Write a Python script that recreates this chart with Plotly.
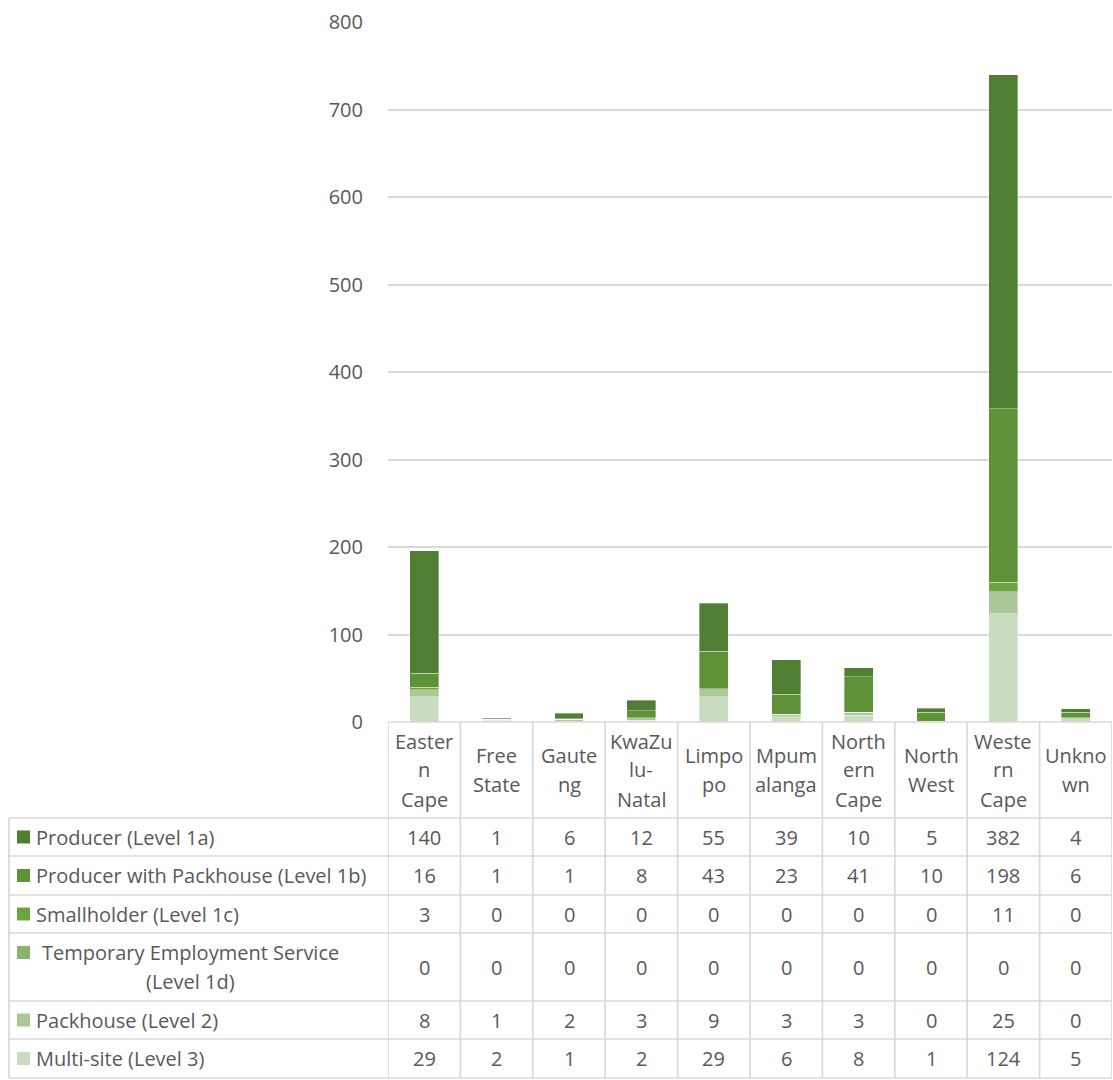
import plotly.graph_objects as go

# ---------------- data ----------------
categories = ["Eastern Cape", "Free State", "Gauteng", "KwaZulu-Natal", "Limpopo",
              "Mpumalanga", "Northern Cape", "North West", "Western Cape", "Unknown"]
header_lines = [["Easter", "n", "Cape"], ["Free", "State"], ["Gaute", "ng"],
                ["KwaZu", "lu-", "Natal"], ["Limpo", "po"], ["Mpum", "alanga"],
                ["North", "ern", "Cape"], ["North", "West"], ["Weste", "rn", "Cape"],
                ["Unkno", "wn"]]

producer_1a = [140, 1, 6, 12, 55, 39, 10, 5, 382, 4]
producer_1b = [16, 1, 1, 8, 43, 23, 41, 10, 198, 6]
smallholder_1c = [3, 0, 0, 0, 0, 0, 0, 0, 11, 0]
tes_1d = [0, 0, 0, 0, 0, 0, 0, 0, 0, 0]
packhouse_2 = [8, 1, 2, 3, 9, 3, 3, 0, 25, 0]
multisite_3 = [29, 2, 1, 2, 29, 6, 8, 1, 124, 5]

# table order (top to bottom)
series_names = ["Producer (Level 1a)", "Producer with Packhouse (Level 1b)",
                "Smallholder (Level 1c)", "Temporary Employment Service (Level 1d)",
                "Packhouse (Level 2)", "Multi-site (Level 3)"]
series_label_lines = [["Producer (Level 1a)"], ["Producer with Packhouse (Level 1b)"],
                      ["Smallholder (Level 1c)"], ["Temporary Employment Service", "(Level 1d)"],
                      ["Packhouse (Level 2)"], ["Multi-site (Level 3)"]]
series_values = [producer_1a, producer_1b, smallholder_1c, tes_1d, packhouse_2, multisite_3]
series_colors = ["#507E32", "#5E9237", "#6AA541", "#88B56B", "#ABC998", "#C9DCBF"]

y_ticks = [0, 100, 200, 300, 400, 500, 600, 700, 800]

# ---------------- layout helpers ----------------
W, H = 1113, 1080
TEXT = "#595959"
GRID = "#D9D9D9"
FONT = "Open Sans"
FS = 20


def px(x):
    return x / W


def py(y):
    return 1 - y / H


plot_left, plot_right = 388, 1112
plot_top, plot_bottom = 22, 722
table_left = 9
header_bottom = 818
row_edges = [818, 856, 895, 933, 1001, 1039, 1078]
line_gap = 29

fig = go.Figure()

# bars: stacked bottom-up (reverse of table order)
for name, vals, col in reversed(list(zip(series_names, series_values, series_colors))):
    fig.add_trace(go.Bar(
        x=categories, y=vals, name=name,
        marker=dict(color=col, line=dict(color="rgba(255,255,255,0.45)", width=0.8)),
        showlegend=False,
    ))

shapes = []
annotations = []
LW = 1.7

# horizontal table lines
shapes.append(dict(type="line", xref="paper", yref="paper",
                   x0=px(plot_left), x1=px(plot_right), y0=py(plot_bottom), y1=py(plot_bottom),
                   line=dict(color=GRID, width=LW)))
for ye in row_edges:
    shapes.append(dict(type="line", xref="paper", yref="paper",
                       x0=px(table_left), x1=px(plot_right), y0=py(ye), y1=py(ye),
                       line=dict(color=GRID, width=LW)))
# left edge of table
shapes.append(dict(type="line", xref="paper", yref="paper",
                   x0=px(table_left), x1=px(table_left), y0=py(row_edges[0]), y1=py(row_edges[-1]),
                   line=dict(color=GRID, width=LW)))
# vertical lines at category boundaries (data coordinates)
for i in range(len(categories) + 1):
    shapes.append(dict(type="line", xref="x", yref="paper",
                       x0=i - 0.5, x1=i - 0.5, y0=py(plot_bottom), y1=py(row_edges[-1]),
                       line=dict(color=GRID, width=LW)))

# header category labels (wrapped like the original)
header_mid = (plot_bottom + header_bottom) / 2
for cat, lines in zip(categories, header_lines):
    n = len(lines)
    for j, ln in enumerate(lines):
        yy = header_mid + (j - (n - 1) / 2) * line_gap
        annotations.append(dict(x=cat, xref="x", y=py(yy), yref="paper", text=ln,
                                showarrow=False, xanchor="center", yanchor="middle",
                                font=dict(family=FONT, size=FS, color=TEXT)))

# table body
for r, (lines, vals, col) in enumerate(zip(series_label_lines, series_values, series_colors)):
    top, bot = row_edges[r], row_edges[r + 1]
    mid = (top + bot) / 2
    n = len(lines)
    first_y = mid - (n - 1) / 2 * line_gap
    # swatch
    shapes.append(dict(type="rect", xref="paper", yref="paper",
                       x0=px(17), x1=px(30), y0=py(first_y - 6.5), y1=py(first_y + 6.5),
                       fillcolor=col, line=dict(width=0)))
    for j, ln in enumerate(lines):
        yy = first_y + j * line_gap
        if n == 1:
            annotations.append(dict(x=px(34), xref="paper", y=py(yy), yref="paper", text=ln,
                                    showarrow=False, xanchor="left", yanchor="middle",
                                    font=dict(family=FONT, size=FS, color=TEXT)))
        else:
            annotations.append(dict(x=px(190), xref="paper", y=py(yy), yref="paper", text=ln,
                                    showarrow=False, xanchor="center", yanchor="middle",
                                    font=dict(family=FONT, size=FS, color=TEXT)))
    for cat, v in zip(categories, vals):
        annotations.append(dict(x=cat, xref="x", y=py(mid), yref="paper", text=str(v),
                                showarrow=False, xanchor="center", yanchor="middle",
                                font=dict(family=FONT, size=FS, color=TEXT)))

fig.update_layout(
    width=W, height=H, autosize=False,
    margin=dict(l=0, r=0, t=0, b=0, pad=0, autoexpand=False),
    paper_bgcolor="white", plot_bgcolor="white",
    barmode="stack", bargap=0.6, showlegend=False,
    font=dict(family=FONT, size=FS, color=TEXT),
    shapes=shapes, annotations=annotations,
    xaxis=dict(domain=[px(plot_left), px(plot_right)], range=[-0.5, len(categories) - 0.5],
               showticklabels=False, showgrid=False, zeroline=False, showline=False,
               automargin=False,
               categoryorder="array", categoryarray=categories, fixedrange=True),
    yaxis=dict(domain=[py(plot_bottom), py(plot_top)], range=[0, 800],
               tickvals=y_ticks, ticktext=[str(t) for t in y_ticks],
               showgrid=True, gridcolor=GRID, gridwidth=1.6, zeroline=False,
               showline=False, ticks="", ticklabelstandoff=24, automargin=False,
               tickfont=dict(family=FONT, size=FS, color=TEXT), fixedrange=True),
)

fig.write_html(
    "out.html",
    config={"displayModeBar": False},
    post_script="document.body.style.margin='0';document.body.style.overflow='hidden';",
)
